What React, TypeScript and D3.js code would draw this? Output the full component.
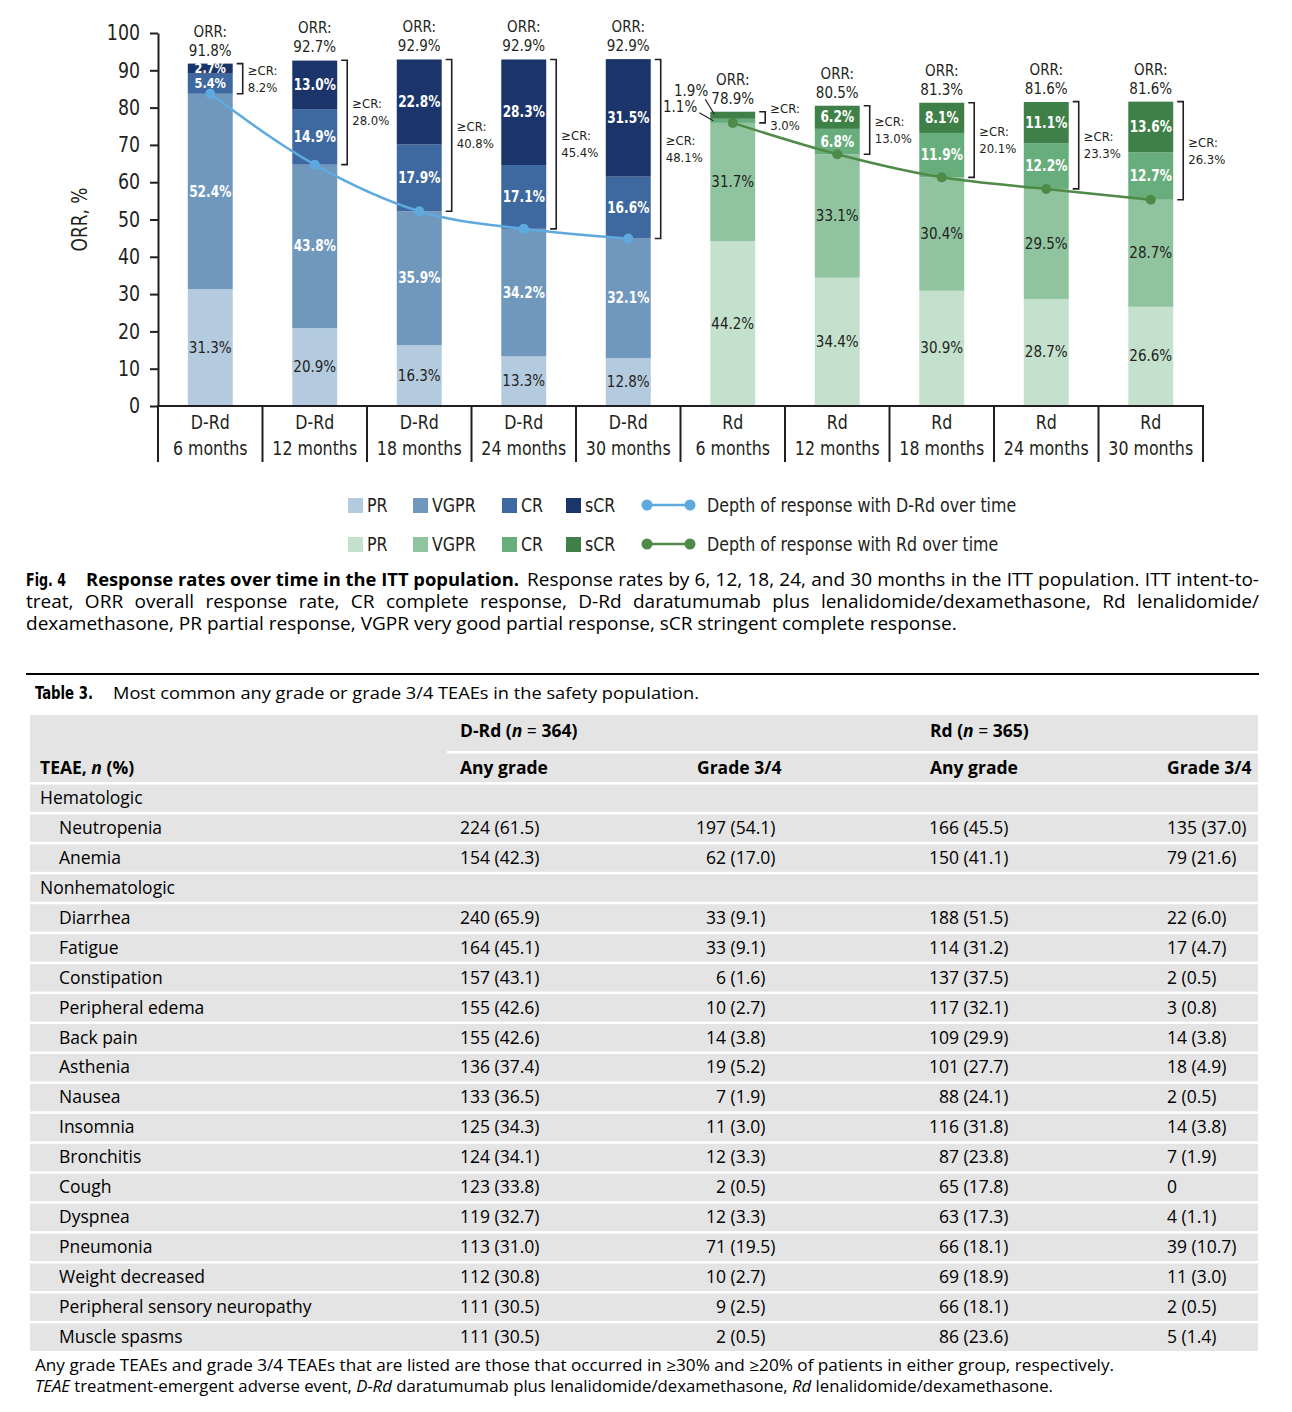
import React from "react";
import { select, scaleBand, scaleLinear, stack, line, curveMonotoneX, axisLeft, range } from "d3";

// ---- chart data ----
const arms = ["D-Rd", "D-Rd", "D-Rd", "D-Rd", "D-Rd", "Rd", "Rd", "Rd", "Rd", "Rd"];
const months = ["6 months", "12 months", "18 months", "24 months", "30 months", "6 months", "12 months", "18 months", "24 months", "30 months"];
const prValues = [31.3, 20.9, 16.3, 13.3, 12.8, 44.2, 34.4, 30.9, 28.7, 26.6];
const vgprValues = [52.4, 43.8, 35.9, 34.2, 32.1, 31.7, 33.1, 30.4, 29.5, 28.7];
const crValues = [5.4, 14.9, 17.9, 17.1, 16.6, 1.1, 6.8, 11.9, 12.2, 12.7];
const scrValues = [2.7, 13.0, 22.8, 28.3, 31.5, 1.9, 6.2, 8.1, 11.1, 13.6];
const orrValues = [91.8, 92.7, 92.9, 92.9, 92.9, 78.9, 80.5, 81.3, 81.6, 81.6];
const geCrValues = [8.2, 28.0, 40.8, 45.4, 48.1, 3.0, 13.0, 20.1, 23.3, 26.3];
const yTicks = [0, 10, 20, 30, 40, 50, 60, 70, 80, 90, 100];
const responseKeys = ["PR", "VGPR", "CR", "sCR"];

// ---- table data ----
const teaeLabels = ["Hematologic", "Neutropenia", "Anemia", "Nonhematologic", "Diarrhea", "Fatigue", "Constipation", "Peripheral edema", "Back pain", "Asthenia", "Nausea", "Insomnia", "Bronchitis", "Cough", "Dyspnea", "Pneumonia", "Weight decreased", "Peripheral sensory neuropathy", "Muscle spasms"];
const drdAny = ["", "224 (61.5)", "154 (42.3)", "", "240 (65.9)", "164 (45.1)", "157 (43.1)", "155 (42.6)", "155 (42.6)", "136 (37.4)", "133 (36.5)", "125 (34.3)", "124 (34.1)", "123 (33.8)", "119 (32.7)", "113 (31.0)", "112 (30.8)", "111 (30.5)", "111 (30.5)"];
const drdG34 = ["", "197 (54.1)", "62 (17.0)", "", "33 (9.1)", "33 (9.1)", "6 (1.6)", "10 (2.7)", "14 (3.8)", "19 (5.2)", "7 (1.9)", "11 (3.0)", "12 (3.3)", "2 (0.5)", "12 (3.3)", "71 (19.5)", "10 (2.7)", "9 (2.5)", "2 (0.5)"];
const rdAny = ["", "166 (45.5)", "150 (41.1)", "", "188 (51.5)", "114 (31.2)", "137 (37.5)", "117 (32.1)", "109 (29.9)", "101 (27.7)", "88 (24.1)", "116 (31.8)", "87 (23.8)", "65 (17.8)", "63 (17.3)", "66 (18.1)", "69 (18.9)", "66 (18.1)", "86 (23.6)"];
const rdG34 = ["", "135 (37.0)", "79 (21.6)", "", "22 (6.0)", "17 (4.7)", "2 (0.5)", "3 (0.8)", "14 (3.8)", "18 (4.9)", "2 (0.5)", "14 (3.8)", "7 (1.9)", "0", "4 (1.1)", "39 (10.7)", "11 (3.0)", "2 (0.5)", "5 (1.4)"];

const NARROW = "'Liberation Sans Narrow', 'DejaVu Sans Condensed', 'Arial Narrow', sans-serif";
const SANS = "'Open Sans', 'Noto Sans', sans-serif";
const INK = "#231f20";

const armColors: Record<string, Record<string, string>> = {
  "D-Rd": { PR: "#b4cbdf", VGPR: "#7098bd", CR: "#3e68a0", sCR: "#1b356b" },
  Rd: { PR: "#c3e1cd", VGPR: "#90c49f", CR: "#67ae7c", sCR: "#3f8049" },
};
const lightText: Record<string, string[]> = {
  "D-Rd": ["VGPR", "CR", "sCR"],
  Rd: ["CR", "sCR"],
};
const lineColors: Record<string, string> = { "D-Rd": "#5eaadf", Rd: "#4f8a48" };

// squeeze glyphs horizontally to mimic a condensed face
const squeeze = (sel: any, f: number) =>
  sel.each(function (this: SVGTextElement) {
    const w = this.getComputedTextLength();
    this.setAttribute("textLength", String(w * f));
    this.setAttribute("lengthAdjust", "spacingAndGlyphs");
  });

// justify a line by widening its word spaces
const justify = (sel: any, target: number) =>
  sel.each(function (this: SVGTextElement) {
    this.removeAttribute("word-spacing");
    const w = this.getComputedTextLength();
    const n = (this.textContent || "").split(" ").length - 1;
    if (n > 0) this.setAttribute("word-spacing", String((target - w) / n));
  });

export default function App() {
  const svgRef = React.useRef<SVGSVGElement>(null);

  React.useEffect(() => {
    document.body.style.margin = "0";
    const svg = select(svgRef.current);
    svg.selectAll("*").remove();

    const data = arms.map((arm, i) => ({
      key: `${arm} ${months[i]}`,
      arm,
      month: months[i],
      PR: prValues[i],
      VGPR: vgprValues[i],
      CR: crValues[i],
      sCR: scrValues[i],
      orr: orrValues[i],
      geCr: geCrValues[i],
    }));

    const x = scaleBand()
      .domain(data.map((d) => d.key))
      .range([158, 1203])
      .paddingInner(0.57)
      .paddingOuter(0.285);
    const y = scaleLinear().domain([0, 100]).range([406, 33]);
    const step = x.step();
    const bw = x.bandwidth();

    const series = stack<any>().keys(responseKeys)(data);

    // bars
    series.forEach((s) => {
      svg
        .append("g")
        .selectAll("rect")
        .data(s)
        .join("rect")
        .attr("x", (d: any) => x(d.data.key)!)
        .attr("y", (d: any) => y(d[1]))
        .attr("width", bw)
        .attr("height", (d: any) => y(d[0]) - y(d[1]))
        .attr("fill", (d: any) => armColors[d.data.arm][s.key]);
    });

    // segment labels
    series.forEach((s) => {
      s.forEach((d: any) => {
        const v = d.data[s.key];
        const cx = x(d.data.key)! + bw / 2;
        const mid = y((d[0] + d[1]) / 2);
        const white = lightText[d.data.arm].includes(s.key);
        if (v < 2.5) {
          // tiny segments: label outside with leader line
          const left = x(d.data.key)!;
          const isScr = s.key === "sCR";
          svg
            .append("text")
            .attr("x", isScr ? left - 2 : left - 13)
            .attr("y", isScr ? mid - 19 : mid - 9)
            .attr("text-anchor", "end")
            .attr("font-family", NARROW)
            .attr("font-size", 15)
            .attr("fill", INK)
            .text(`${v.toFixed(1)}%`);
          svg
            .append("line")
            .attr("x1", isScr ? left - 5 : left - 11)
            .attr("y1", isScr ? mid - 16 : mid - 8)
            .attr("x2", isScr ? left + 4 : left + 3)
            .attr("y2", isScr ? mid - 1 : mid)
            .attr("stroke", INK)
            .attr("stroke-width", 1.2);
          return;
        }
        const small = v < 6;
        const t = svg
          .append("text")
          .attr("x", cx)
          .attr("y", mid + (small ? 4.5 : 5))
          .attr("text-anchor", "middle")
          .attr("font-family", NARROW)
          .attr("font-size", small ? 14 : 15)
          .attr("font-weight", white ? "bold" : "normal")
          .attr("fill", white ? "#ffffff" : INK)
          .text(`${v.toFixed(1)}%`);
        if (white) squeeze(t, 0.9);
      });
    });

    // ORR labels and >=CR brackets
    data.forEach((d) => {
      const cx = x(d.key)! + bw / 2;
      const top = y(d.orr);
      [
        { t: "ORR:", dy: -27 },
        { t: `${d.orr.toFixed(1)}%`, dy: -8 },
      ].forEach((o) =>
        svg
          .append("text")
          .attr("x", cx)
          .attr("y", top + o.dy)
          .attr("text-anchor", "middle")
          .attr("font-family", NARROW)
          .attr("font-size", 15)
          .attr("fill", INK)
          .text(o.t)
      );

      const bx = x(d.key)! + bw + 10;
      const bBottom = y(d.PR + d.VGPR);
      svg
        .append("path")
        .attr("d", `M${bx - 6},${top}H${bx}V${bBottom}H${bx - 6}`)
        .attr("fill", "none")
        .attr("stroke", INK)
        .attr("stroke-width", 1.6);
      const bm = (top + bBottom) / 2;
      const br = svg
        .append("text")
        .attr("font-family", NARROW)
        .attr("font-size", 13)
        .attr("fill", INK);
      br.append("tspan").attr("x", bx + 5).attr("y", bm - 4).text("\u2265CR:");
      br.append("tspan").attr("x", bx + 5).attr("y", bm + 13).text(`${d.geCr.toFixed(1)}%`);
    });

    // depth-of-response lines
    ["D-Rd", "Rd"].forEach((arm) => {
      const pts = data.filter((d) => d.arm === arm);
      const gen = line<any>()
        .x((d) => x(d.key)! + bw / 2)
        .y((d) => y(d.PR + d.VGPR))
        .curve(curveMonotoneX);
      svg
        .append("path")
        .attr("d", gen(pts)!)
        .attr("fill", "none")
        .attr("stroke", lineColors[arm])
        .attr("stroke-width", 2.5);
      svg
        .append("g")
        .selectAll("circle")
        .data(pts)
        .join("circle")
        .attr("cx", (d) => x(d.key)! + bw / 2)
        .attr("cy", (d) => y(d.PR + d.VGPR))
        .attr("r", 5)
        .attr("fill", lineColors[arm]);
    });

    // y axis
    const yAxis = svg
      .append("g")
      .attr("transform", "translate(158,0)")
      .call(axisLeft(y).tickValues(yTicks).tickSize(8).tickSizeOuter(0).tickPadding(10));
    yAxis.selectAll("path,line").attr("stroke", INK).attr("stroke-width", 2);
    const yLabels = yAxis
      .selectAll("text")
      .attr("font-family", NARROW)
      .attr("font-size", 21)
      .attr("fill", INK);
    squeeze(yLabels, 0.92);

    const yTitle = svg
      .append("text")
      .attr("transform", `translate(87,${y(50)}) rotate(-90)`)
      .attr("text-anchor", "middle")
      .attr("font-family", NARROW)
      .attr("font-size", 21)
      .attr("fill", INK)
      .text("ORR, %");
    squeeze(yTitle, 0.9);

    // x axis with category boxes
    svg
      .append("line")
      .attr("x1", 157)
      .attr("x2", 1204)
      .attr("y1", y(0))
      .attr("y2", y(0))
      .attr("stroke", INK)
      .attr("stroke-width", 2);
    range(data.length + 1).forEach((i) => {
      const sx = 158 + i * step;
      svg
        .append("line")
        .attr("x1", sx)
        .attr("x2", sx)
        .attr("y1", y(0))
        .attr("y2", 462)
        .attr("stroke", INK)
        .attr("stroke-width", 2);
    });
    data.forEach((d) => {
      const cx = x(d.key)! + bw / 2;
      [
        { t: d.arm, yy: 429 },
        { t: d.month, yy: 455 },
      ].forEach((o) => {
        const t = svg
          .append("text")
          .attr("x", cx)
          .attr("y", o.yy)
          .attr("text-anchor", "middle")
          .attr("font-family", NARROW)
          .attr("font-size", 20)
          .attr("fill", INK)
          .text(o.t);
        squeeze(t, 0.88);
      });
    });

    // legend
    const legendRows = [
      { arm: "D-Rd", y: 505, text: "Depth of response with D-Rd over time" },
      { arm: "Rd", y: 544, text: "Depth of response with Rd over time" },
    ];
    const legendX = [348, 413, 502, 566];
    legendRows.forEach((r) => {
      responseKeys.forEach((k, i) => {
        svg
          .append("rect")
          .attr("x", legendX[i])
          .attr("y", r.y - 7)
          .attr("width", 15)
          .attr("height", 15)
          .attr("fill", armColors[r.arm][k]);
        const t = svg
          .append("text")
          .attr("x", legendX[i] + 19)
          .attr("y", r.y + 7)
          .attr("font-family", NARROW)
          .attr("font-size", 20)
          .attr("fill", INK)
          .text(k);
        squeeze(t, 0.88);
      });
      svg
        .append("line")
        .attr("x1", 647)
        .attr("x2", 690)
        .attr("y1", r.y)
        .attr("y2", r.y)
        .attr("stroke", lineColors[r.arm])
        .attr("stroke-width", 2.5);
      [647, 690].forEach((cx) =>
        svg.append("circle").attr("cx", cx).attr("cy", r.y).attr("r", 5.5).attr("fill", lineColors[r.arm])
      );
      const t = svg
        .append("text")
        .attr("x", 707)
        .attr("y", r.y + 7)
        .attr("font-family", NARROW)
        .attr("font-size", 20)
        .attr("fill", INK)
        .text(r.text);
      squeeze(t, 0.88);
    });

    // figure caption
    const cap = svg.append("g").attr("font-family", SANS).attr("font-size", 17).attr("fill", "#000");
    cap
      .append("text")
      .attr("x", 26)
      .attr("y", 586)
      .attr("font-family", NARROW)
      .attr("font-weight", "bold")
      .attr("textLength", 40)
      .attr("lengthAdjust", "spacingAndGlyphs")
      .text("Fig. 4");
    cap
      .append("text")
      .attr("x", 86)
      .attr("y", 586)
      .attr("font-weight", "bold")
      .attr("textLength", 433)
      .attr("lengthAdjust", "spacingAndGlyphs")
      .text("Response rates over time in the ITT population.");
    const c3 = cap
      .append("text")
      .attr("x", 26)
      .attr("y", 630)
      .text("dexamethasone, PR partial response, VGPR very good partial response, sCR stringent complete response.");
    // pick the body size so the unjustified last line has the reference width
    const w3 = (c3.node() as SVGTextElement).getComputedTextLength();
    const bodySize = (17 * 931) / w3;
    c3.attr("font-size", bodySize);
    const c1 = cap
      .append("text")
      .attr("x", 527)
      .attr("y", 586)
      .attr("font-size", bodySize)
      .text("Response rates by 6, 12, 18, 24, and 30 months in the ITT population. ITT intent-to-");
    const c2 = cap
      .append("text")
      .attr("x", 26)
      .attr("y", 608)
      .attr("font-size", bodySize)
      .text("treat, ORR overall response rate, CR complete response, D-Rd daratumumab plus lenalidomide/dexamethasone, Rd lenalidomide/");
    justify(c1, 732);
    justify(c2, 1233);
    // if a line is still too long, compress it to fit
    [c1, c2].forEach((c, i) => {
      const el = c.node() as SVGTextElement;
      const target = i === 0 ? 732 : 1233;
      if (el.getComputedTextLength() > target + 0.5) {
        el.removeAttribute("word-spacing");
        el.setAttribute("textLength", String(target));
        el.setAttribute("lengthAdjust", "spacingAndGlyphs");
      }
    });

    // table
    svg.append("rect").attr("x", 26).attr("y", 673).attr("width", 1233).attr("height", 2).attr("fill", "#000");
    svg
      .append("text")
      .attr("x", 35)
      .attr("y", 699)
      .attr("font-family", NARROW)
      .attr("font-weight", "bold")
      .attr("font-size", 17)
      .attr("textLength", 58)
      .attr("lengthAdjust", "spacingAndGlyphs")
      .text("Table 3.");
    svg
      .append("text")
      .attr("x", 113)
      .attr("y", 699)
      .attr("font-family", SANS)
      .attr("font-size", 17)
      .attr("textLength", 586)
      .attr("lengthAdjust", "spacingAndGlyphs")
      .text("Most common any grade or grade 3/4 TEAEs in the safety population.");

    const rowY = (i: number) => 798 + i * 29.94;
    const tableTop = 715;
    const tableBottom = rowY(teaeLabels.length - 1) + 14;
    const tbl = svg.append("g").attr("font-family", SANS).attr("font-size", 17.5).attr("fill", "#000");
    tbl
      .append("rect")
      .attr("x", 30)
      .attr("y", tableTop)
      .attr("width", 1228)
      .attr("height", tableBottom - tableTop)
      .attr("fill", "#e4e4e4");
    tbl.append("rect").attr("x", 447).attr("y", 751).attr("width", 811).attr("height", 2.5).attr("fill", "#fff");
    teaeLabels.forEach((_, i) => {
      tbl.append("rect").attr("x", 30).attr("y", rowY(i) - 16).attr("width", 1228).attr("height", 2.5).attr("fill", "#fff");
    });

    const header1 = [
      { x: 460, arm: "D-Rd", n: 364 },
      { x: 930, arm: "Rd", n: 365 },
    ];
    header1.forEach((h) => {
      const t = tbl.append("text").attr("x", h.x).attr("y", 737).attr("font-weight", "bold");
      t.append("tspan").text(`${h.arm} (`);
      t.append("tspan").attr("font-style", "italic").text("n");
      t.append("tspan").attr("font-weight", "normal").text(" = ");
      t.append("tspan").text(`${h.n})`);
    });
    const h2 = tbl.append("text").attr("x", 40).attr("y", 774).attr("font-weight", "bold");
    h2.append("tspan").text("TEAE, ");
    h2.append("tspan").attr("font-style", "italic").text("n");
    h2.append("tspan").text(" (%)");
    [
      { x: 460, t: "Any grade" },
      { x: 697, t: "Grade 3/4" },
      { x: 930, t: "Any grade" },
      { x: 1167, t: "Grade 3/4" },
    ].forEach((h) => tbl.append("text").attr("x", h.x).attr("y", 774).attr("font-weight", "bold").text(h.t));

    const alignedCell = (val: string, countEnd: number, yy: number) => {
      if (!val) return;
      const sp = val.indexOf(" ");
      const count = sp < 0 ? val : val.slice(0, sp);
      const rest = sp < 0 ? "" : val.slice(sp + 1);
      tbl.append("text").attr("x", countEnd).attr("y", yy).attr("text-anchor", "end").text(count);
      if (rest) tbl.append("text").attr("x", countEnd + 4.5).attr("y", yy).text(rest);
    };

    teaeLabels.forEach((label, i) => {
      const yy = rowY(i) + 6;
      const isGroup = drdAny[i] === "";
      tbl.append("text").attr("x", isGroup ? 40 : 59).attr("y", yy).text(label);
      if (isGroup) return;
      tbl.append("text").attr("x", 460).attr("y", yy).text(drdAny[i]);
      alignedCell(drdG34[i], 726, yy);
      alignedCell(rdAny[i], 959, yy);
      tbl.append("text").attr("x", 1167).attr("y", yy).text(rdG34[i]);
    });

    // footnote
    const fn = svg.append("g").attr("font-family", SANS).attr("font-size", 16).attr("fill", "#000");
    fn.append("text")
      .attr("x", 35)
      .attr("y", 1371)
      .attr("textLength", 1079)
      .attr("lengthAdjust", "spacingAndGlyphs")
      .text("Any grade TEAEs and grade 3/4 TEAEs that are listed are those that occurred in \u226530% and \u226520% of patients in either group, respectively.");
    const f2 = fn
      .append("text")
      .attr("x", 35)
      .attr("y", 1392)
      .attr("textLength", 1018)
      .attr("lengthAdjust", "spacingAndGlyphs");
    f2.append("tspan").attr("font-style", "italic").text("TEAE");
    f2.append("tspan").text(" treatment-emergent adverse event, ");
    f2.append("tspan").attr("font-style", "italic").text("D-Rd");
    f2.append("tspan").text(" daratumumab plus lenalidomide/dexamethasone, ");
    f2.append("tspan").attr("font-style", "italic").text("Rd");
    f2.append("tspan").text(" lenalidomide/dexamethasone.");

    return () => {
      svg.selectAll("*").remove();
    };
  }, []);

  return <svg ref={svgRef} width={1292} height={1412} style={{ display: "block", background: "#fff" }} />;
}
